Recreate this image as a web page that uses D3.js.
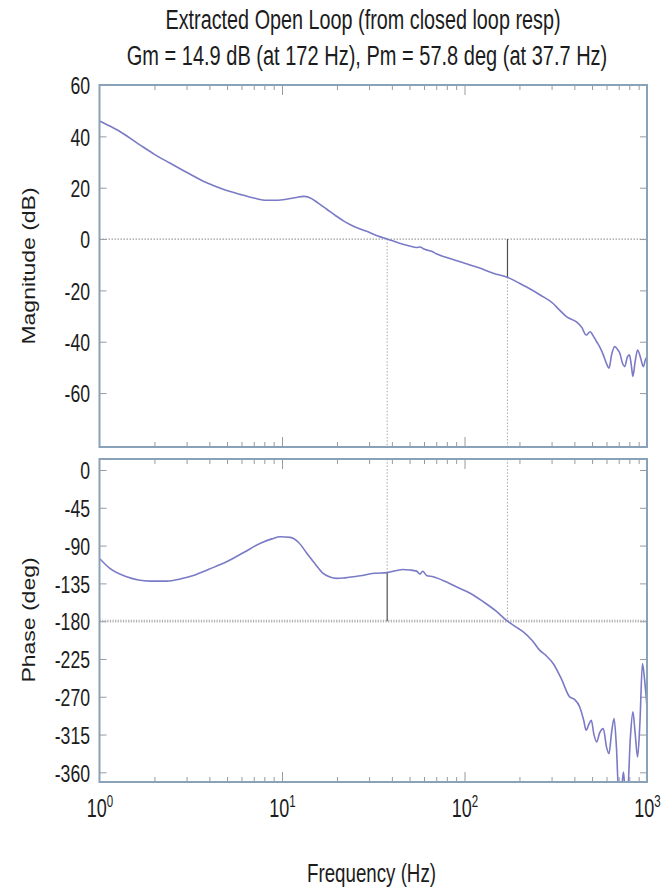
<!DOCTYPE html>
<html><head><meta charset="utf-8">
<script src="https://cdn.jsdelivr.net/npm/d3@7"></script>
<style>
body{margin:0;background:#fff}
text{font-family:"Liberation Sans",Arial,Helvetica,sans-serif;fill:#1c1c1c}
</style>
</head><body>
<svg id="c" width="671" height="890"></svg>
<script>
// ---------- data ----------
const titleLines = ["Extracted Open Loop (from closed loop resp)",
                    "Gm = 14.9 dB (at 172 Hz), Pm = 57.8 deg (at 37.7 Hz)"];
const xLabel = "Frequency (Hz)";
const magLabel = "Magnitude (dB)";
const phaseLabel = "Phase (deg)";

const freqTicks = [1, 10, 100, 1000];
const freqMinorTicks = [2,3,4,5,6,7,8,9,20,30,40,50,60,70,80,90,200,300,400,500,600,700,800,900];
const magTicks = [-60, -40, -20, 0, 20, 40, 60];
const phaseTicks = [0, -45, -90, -135, -180, -225, -270, -315, -360];

const magFreq = [1,1.14,1.3,1.67,2.0,2.43,3.0,3.87,4.8,5.89,7.0,8.25,9.5,10.6,12,13.1,14.2,15.8,17.6,19.5,21.7,24,26.8,30,33.5,37.7,44,50,54.6,57,60,63,66,70.5,85,100,120,145,172,200,219,260,306,330,363,411,440,464,488,510,530,555,576,600,619,640,665,690,710,735,755,780,801,820,837,860,888,920,955,980,1000];
const magDb = [46,44,41.8,36.6,33,29.6,26,21.9,19.3,17.4,16,15.1,15.1,15.5,16.2,16.6,16.1,14,11.6,9.3,7.1,5.4,3.9,2.6,1.2,0,-1.6,-2.7,-3.3,-3.1,-3.9,-4.4,-4.8,-5.8,-7.8,-9.4,-11.2,-13.4,-14.9,-17.2,-18.7,-21.8,-25.1,-27.5,-30.3,-32.3,-34.5,-37.4,-36.1,-38,-40,-42.5,-45.1,-48.5,-50.3,-45,-41.9,-43,-44.5,-48.5,-49.7,-46,-45.1,-49,-53.5,-48,-43.2,-46,-49.7,-47,-45.8];

const phFreq = [1,1.14,1.41,1.89,2.33,2.8,3.27,4.0,4.97,6.2,7.57,8.8,9.76,11.1,12.3,13.7,15.2,16.8,18.3,19.9,22,26.8,32,37.7,46,50,54.6,57,59,62,67.4,78,90,108,127,148,172,190,210,235,258,280,306,340,377,400,428,450,464,480,495,512,530,550,576,600,619,640,660,680,700,720,743,762,782,810,837,860,888,915,944,970,1000];
const phDeg = [-105.3,-117.2,-127.2,-132.3,-132.3,-129.5,-125.5,-118,-109.3,-98,-87.4,-82,-79.5,-80.2,-86,-99.3,-112,-123.2,-127.5,-129.1,-128.5,-126,-123,-122.2,-118.4,-119,-120.4,-124,-120.5,-125.5,-127.2,-132.5,-139.1,-147,-157,-167.5,-180,-186.5,-192.7,-203,-214.5,-221,-230.4,-249,-270.2,-273,-282.1,-298,-309.9,-303,-298,-315,-323.8,-313,-307.9,-330,-337.7,-312,-295.9,-330,-385,-385,-359.6,-385,-385,-320,-288,-312,-341.7,-300,-230.4,-250,-282.1];

const gmFreq = 172, gmDb = 14.9;
const pmFreq = 37.7, pmDeg = 57.8;

// ---------- layout ----------
const SX = 0.72;
const L = 99.5, R = 647;
const top1 = 85, bot1 = 447, top2 = 459, bot2 = 782;
const svg = d3.select("#c");

const x = d3.scaleLog().domain([1, 1000]).range([L, R]);
const yM = d3.scaleLinear().domain([-81, 60]).range([bot1, top1]);
const yP = d3.scaleLinear().domain([-371.5, 13.1]).range([bot2, top2]);

const frameColor = "#8aa2b9", tickColor = "#9a9a9a", lineColor = "#7a7ac6";

const defs = svg.append("defs");
defs.append("clipPath").attr("id","clipM").append("rect").attr("x",L).attr("y",top1).attr("width",R-L).attr("height",bot1-top1);
defs.append("clipPath").attr("id","clipP").append("rect").attr("x",L).attr("y",top2).attr("width",R-L).attr("height",bot2-top2);

function styleAxis(g){
  g.select(".domain").remove();
  g.selectAll(".tick line").attr("stroke", tickColor).attr("stroke-width",1);
}

function panel(yScale, yTicks, top, bot){
  svg.append("g").attr("transform",`translate(0,${bot})`)
     .call(d3.axisBottom(x).tickValues(freqMinorTicks).tickSize(-5).tickFormat(()=>"")).call(styleAxis);
  svg.append("g").attr("transform",`translate(0,${top})`)
     .call(d3.axisTop(x).tickValues(freqMinorTicks).tickSize(-5).tickFormat(()=>"")).call(styleAxis);
  svg.append("g").attr("transform",`translate(0,${bot})`)
     .call(d3.axisBottom(x).tickValues([10,100]).tickSize(-10).tickFormat(()=>"")).call(styleAxis);
  svg.append("g").attr("transform",`translate(0,${top})`)
     .call(d3.axisTop(x).tickValues([10,100]).tickSize(-10).tickFormat(()=>"")).call(styleAxis);
  const ya = svg.append("g").attr("transform",`translate(${L},0)`)
     .call(d3.axisLeft(yScale).tickValues(yTicks).tickSize(-7).tickFormat(d => String(d))).call(styleAxis);
  ya.selectAll(".tick text")
    .attr("x", -9.5/SX).attr("dy","0.36em")
    .attr("transform",`scale(${SX},1)`)
    .style("font-size","24.5px").style("font-family",'"Liberation Sans",Arial,sans-serif').attr("fill","#1c1c1c");
  svg.append("g").attr("transform",`translate(${R},0)`)
     .call(d3.axisRight(yScale).tickValues(yTicks).tickSize(-7).tickFormat(()=>"")).call(styleAxis);
}

panel(yM, magTicks, top1, bot1);
panel(yP, phaseTicks, top2, bot2);

// reference lines
svg.append("line").attr("x1",L).attr("x2",R).attr("y1",yM(0)).attr("y2",yM(0))
   .attr("stroke","#a0a0a0").attr("stroke-width",1.2).attr("stroke-dasharray","1.5,1.5");
svg.append("line").attr("x1",L).attr("x2",R).attr("y1",yP(-180)).attr("y2",yP(-180))
   .attr("stroke","#b0b0b0").attr("stroke-width",2.6).attr("stroke-dasharray","1.2,1.4");

function vline(xv, y1, y2, solid){
  svg.append("line").attr("x1",x(xv)).attr("x2",x(xv)).attr("y1",y1).attr("y2",y2)
    .attr("stroke", solid ? "#505050" : "#b0b0b0")
    .attr("stroke-width", solid ? 1.2 : 1.1)
    .attr("stroke-dasharray", solid ? null : "1.5,1.8");
}
vline(pmFreq, yM(0), bot1, false);
vline(gmFreq, yM(-gmDb), bot1, false);
vline(gmFreq, yM(0), yM(-gmDb), true);
const pmPhase = -180 + pmDeg;
vline(pmFreq, top2, yP(pmPhase), false);
vline(pmFreq, yP(pmPhase), yP(-180), true);
vline(gmFreq, top2, yP(-180), false);

// curves
const lineM = d3.line().x((d,i)=>x(magFreq[i])).y(d=>yM(d)).curve(d3.curveMonotoneX);
svg.append("path").attr("clip-path","url(#clipM)").attr("d", lineM(magDb))
   .attr("fill","none").attr("stroke",lineColor).attr("stroke-width",1.6);
const lineP = d3.line().x((d,i)=>x(phFreq[i])).y(d=>yP(d)).curve(d3.curveMonotoneX);
svg.append("path").attr("clip-path","url(#clipP)").attr("d", lineP(phDeg))
   .attr("fill","none").attr("stroke",lineColor).attr("stroke-width",1.6);

// frames
[[top1,bot1],[top2,bot2]].forEach(([t,b])=>{
  svg.append("rect").attr("x",L).attr("y",t).attr("width",R-L).attr("height",b-t)
     .attr("fill","none").attr("stroke",frameColor).attr("stroke-width",2);
});

// x tick labels (10^n) on bottom panel
const xa = svg.append("g").attr("transform",`translate(0,${bot2})`)
  .call(d3.axisBottom(x).tickValues(freqTicks).tickSize(0).tickFormat(()=>""));
xa.select(".domain").remove();
xa.selectAll(".tick text").each(function(d){
  const t = d3.select(this);
  t.attr("y", 35).attr("dy", null).attr("transform",`scale(${SX},1)`)
   .attr("text-anchor","middle").style("font-size","25px").attr("fill","#1c1c1c");
  t.append("tspan").text("10");
  t.append("tspan").text(String(Math.round(Math.log10(d)))).attr("dy",-10).style("font-size","16px");
});

// titles and labels
function sqText(txt, cx, by, size){
  svg.append("text").attr("transform",`translate(${cx},${by}) scale(${SX},1)`)
     .attr("text-anchor","middle").style("font-size",size+"px").text(txt);
}
sqText(titleLines[0], 363, 28.5, 27.5);
sqText(titleLines[1], 367, 65, 27.8);
sqText(xLabel, 371.5, 882, 26);

function rotText(txt, bx, cy, size){
  svg.append("text").attr("transform",`translate(${bx},${cy}) rotate(-90) scale(1,0.82)`)
     .attr("text-anchor","middle").style("font-size",size+"px").text(txt);
}
rotText(magLabel, 35, 266, 23);
rotText(phaseLabel, 35, 620, 23);
</script>
</body></html>
